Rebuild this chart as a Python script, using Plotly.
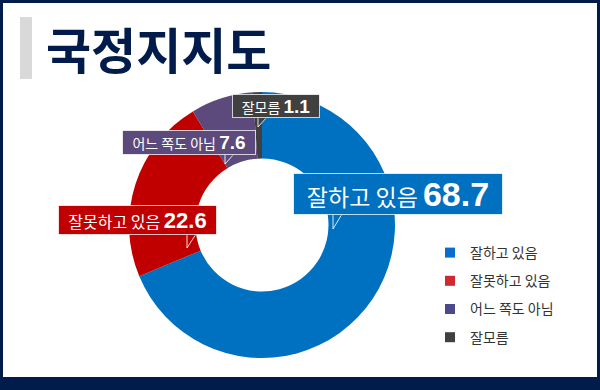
import plotly.graph_objects as go

# ---- data ----
categories = ["잘하고 있음", "잘못하고 있음", "어느 쪽도 아님", "잘모름"]
values = [68.7, 22.6, 7.6, 1.1]
slice_colors = ["#0070C0", "#C00000", "#5C4A7C", "#404040"]
legend_colors = ["#0A6CCC", "#D0282E", "#4A4A8C", "#404040"]
title_text = "국정지지도"

W, H = 600, 390
NAVY = "#011B4B"


def px(x):
    return x / W


def py(y):
    return 1 - y / H


fig = go.Figure()

fig.add_trace(go.Pie(
    labels=categories,
    values=values,
    marker=dict(colors=slice_colors, line=dict(width=0)),
    hole=0.5,
    sort=False,
    direction="clockwise",
    rotation=0,
    textinfo="none",
    hoverinfo="label+value",
    showlegend=False,
    domain=dict(x=[px(129), px(395)], y=[py(358), py(92)]),
))

# legend entries (dummy traces so square size and spacing can be controlled)
for i, (cat, col) in enumerate(zip(categories, legend_colors)):
    fig.add_trace(go.Scatter(
        x=[None], y=[None], mode="markers", name=cat,
        marker=dict(symbol="square", size=10, color=col),
        legendgroup=f"g{i}", showlegend=True, hoverinfo="skip",
    ))

shapes = [
    # white card inside navy frame
    dict(type="rect", xref="paper", yref="paper", x0=px(3), x1=px(597),
         y0=py(377), y1=py(3), fillcolor="white", line=dict(width=0), layer="below"),
    # gray accent bar by the title
    dict(type="rect", xref="paper", yref="paper", x0=px(20), x1=px(32),
         y0=py(79), y1=py(17), fillcolor="#D9D9D9", line=dict(width=0), layer="below"),
]

# callout boxes: (left, top, right, bottom, tail_x, tail_tip_y, kor size, num size)
boxes = [
    (293, 173, 503, 215, 333, 229, 23, 34),
    (58, 205, 217, 235, 187, 248, 16, 22),
    (122, 130, 256, 155, 225, 164, 14, 19),
    (232, 94, 320, 118, 258, 127, 14, 19),
]

annotations = [
    dict(text=f"<b>{title_text}</b>", xref="paper", yref="paper",
         x=px(44), y=py(47), xanchor="left", yanchor="middle", showarrow=False,
         font=dict(family="Noto Sans CJK KR", size=49, color=NAVY, weight=900)),
]

for (l, t, r, b, tx, tip, ks, ns), cat, val, col in zip(boxes, categories, values, slice_colors):
    # tail (speech-bubble pointer)
    path = (f"M{px(tx)},{py(b - 1)} L{px(tx)},{py(tip)} "
            f"L{px(tx + 9)},{py(b - 1)} Z")
    shapes.append(dict(type="path", xref="paper", yref="paper", path=path,
                       fillcolor=col, line=dict(color="rgba(255,255,255,0.85)", width=1),
                       layer="above"))
    annotations.append(dict(
        text=(f"{cat} <span style=\"font-size:{ns}px;font-family:'Liberation Sans'\">"
              f"<b>{val}</b></span>"),
        xref="paper", yref="paper", x=px(l), y=py(t), xanchor="left", yanchor="top",
        showarrow=False, width=r - l - 2, height=b - t - 2,
        bgcolor=col, bordercolor="rgba(255,255,255,0.75)", borderwidth=1, borderpad=0,
        align="center", valign="middle",
        font=dict(family="Noto Sans CJK KR", size=ks, color="white"),
    ))
    # cover the tail's top outline so it joins the box
    shapes.append(dict(type="line", xref="paper", yref="paper",
                       x0=px(tx + 0.5), x1=px(tx + 8.5), y0=py(b - 0.5), y1=py(b - 0.5),
                       line=dict(color=col, width=2), layer="above"))

fig.update_layout(
    width=W, height=H,
    margin=dict(l=0, r=0, t=0, b=0),
    paper_bgcolor=NAVY,
    plot_bgcolor="rgba(0,0,0,0)",
    xaxis=dict(visible=False),
    yaxis=dict(visible=False),
    shapes=shapes,
    annotations=annotations,
    showlegend=True,
    legend=dict(
        x=px(430), y=py(237), xanchor="left", yanchor="top",
        bgcolor="rgba(0,0,0,0)", tracegroupgap=7,
        font=dict(family="Noto Sans CJK KR", size=14, color="#333333"),
        itemclick=False, itemdoubleclick=False,
    ),
)

fig.write_html(
    "out.html",
    config=dict(displayModeBar=False),
    post_script="document.body.style.margin='0';document.body.style.padding='0';"
                "document.documentElement.style.overflow='hidden';",
)
